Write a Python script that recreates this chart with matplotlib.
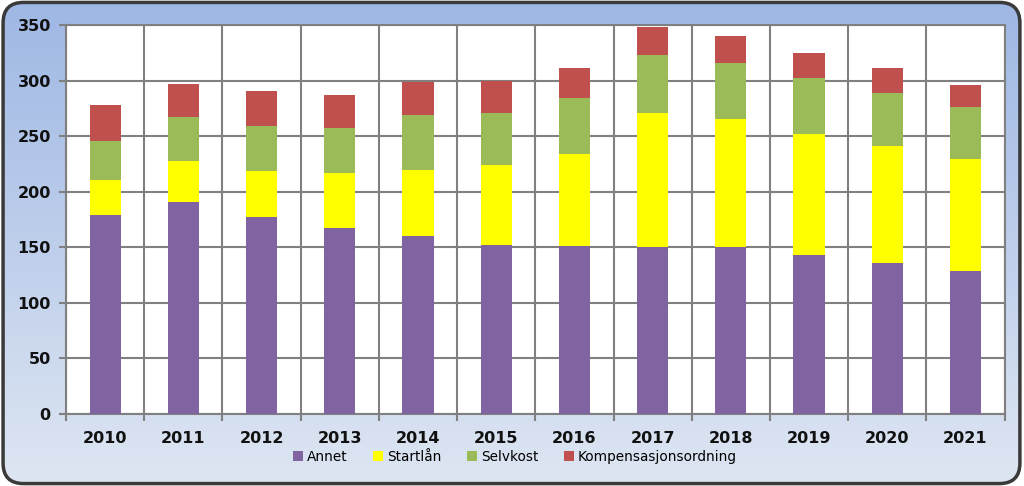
import numpy as np
import matplotlib
matplotlib.use('Agg')
import matplotlib.pyplot as plt
from matplotlib.patches import FancyBboxPatch

# data
years = ['2010', '2011', '2012', '2013', '2014', '2015',
         '2016', '2017', '2018', '2019', '2020', '2021']
annet = [179, 191, 177, 167, 160, 152, 151, 150, 150, 143, 136, 129]
startlan = [32, 37, 42, 50, 60, 72, 83, 121, 115, 109, 105, 100]
selvkost = [35, 39, 40, 40, 49, 47, 50, 52, 51, 50, 48, 47]
kompensasjon = [32, 30, 32, 30, 30, 29, 27, 25, 24, 23, 22, 20]

series = [
    ('Annet', annet, '#8064a2'),
    ('Startlån', startlan, '#ffff00'),
    ('Selvkost', selvkost, '#9bbb59'),
    ('Kompensasjonsordning', kompensasjon, '#c0504d'),
]

plt.rcParams['font.family'] = ['DejaVu Sans']

fig = plt.figure(figsize=(10.24, 4.86), dpi=100)

# background with gradient and rounded frame
bg = fig.add_axes([0, 0, 1, 1], zorder=-10)
bg.set_xlim(0, 1)
bg.set_ylim(0, 1)
bg.axis('off')
grad = np.linspace(0, 1, 256).reshape(-1, 1)
top = np.array([158, 183, 228]) / 255
bot = np.array([222, 230, 242]) / 255
img = top * (1 - grad[..., None]) + bot * grad[..., None]
im = bg.imshow(img, extent=[0, 1, 0, 1], aspect='auto', origin='upper')
frame = FancyBboxPatch((0.003, 0.005), 0.993, 0.99,
                       boxstyle='round,pad=0,rounding_size=0.02',
                       mutation_aspect=1024 / 486,
                       transform=bg.transAxes, facecolor='none',
                       edgecolor='#3a3a3a', linewidth=2.5)
bg.add_patch(frame)
im.set_clip_path(frame)

ax = fig.add_axes([0.0645, 0.148, 0.9165, 0.8006])
ax.set_facecolor('white')

x = np.arange(len(years))
bottom = np.zeros(len(years))
for name, vals, col in series:
    ax.bar(x, vals, width=0.4, bottom=bottom, color=col, label=name, zorder=3)
    bottom += np.array(vals)

ax.set_xlim(-0.5, len(years) - 0.5)
ax.set_ylim(0, 350)
ax.set_yticks(range(0, 351, 50))
ax.set_xticks(x)
ax.set_xticklabels(years)
ax.set_xticks(np.arange(-0.5, len(years)), minor=True)

ax.grid(axis='y', color='#808080', linewidth=1.5, zorder=1)
ax.grid(axis='x', which='minor', color='#808080', linewidth=1.5, zorder=1)
ax.tick_params(axis='x', which='major', length=0, pad=12)
ax.tick_params(axis='x', which='minor', length=5, width=1.5, color='#808080')
ax.tick_params(axis='y', length=5, width=1.5, color='#808080', pad=6)
for lbl in ax.get_xticklabels() + ax.get_yticklabels():
    lbl.set_fontweight('bold')
    lbl.set_fontsize(11.5)
    lbl.set_color('#111111')

for s in ax.spines.values():
    s.set_color('#808080')
    s.set_linewidth(1.5)

leg = fig.legend(loc='center', bbox_to_anchor=(0.503, 0.06), ncol=4,
                 frameon=False, fontsize=9.8, handlelength=0.7,
                 handleheight=0.7, handletextpad=0.3, columnspacing=1.9)

fig.savefig('out.png', dpi=100)
